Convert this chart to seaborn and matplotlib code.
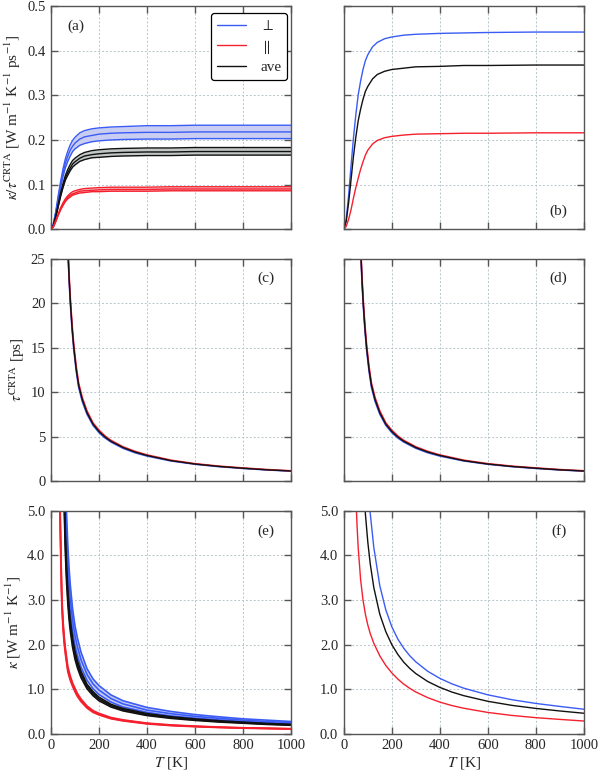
import numpy as np
import pandas as pd
import matplotlib
matplotlib.use("Agg")
import matplotlib.pyplot as plt
import seaborn as sns
from matplotlib.lines import Line2D

# ---- data ----
# (a) kappa / tau^CRTA, three curves per band
T_a = [0, 10, 20, 30, 40, 50, 60, 70, 80, 90, 100, 120, 140, 170, 200, 250, 300, 400, 500, 600, 800, 1000]
a_blue_lo = [0, 0.010, 0.035, 0.065, 0.093, 0.118, 0.138, 0.152, 0.164, 0.174, 0.180, 0.188, 0.192, 0.196, 0.198, 0.200, 0.201, 0.202, 0.202, 0.203, 0.203, 0.203]
a_blue_mid = [0, 0.011, 0.037, 0.070, 0.100, 0.126, 0.148, 0.164, 0.177, 0.186, 0.193, 0.202, 0.207, 0.210, 0.213, 0.215, 0.216, 0.217, 0.217, 0.218, 0.218, 0.218]
a_blue_hi = [0, 0.012, 0.040, 0.075, 0.107, 0.135, 0.158, 0.175, 0.189, 0.199, 0.206, 0.216, 0.221, 0.225, 0.227, 0.229, 0.230, 0.232, 0.232, 0.233, 0.233, 0.233]
a_black_lo = [0, 0.007, 0.027, 0.050, 0.073, 0.093, 0.110, 0.121, 0.131, 0.139, 0.144, 0.152, 0.156, 0.160, 0.161, 0.163, 0.164, 0.165, 0.165, 0.166, 0.166, 0.166]
a_black_mid = [0, 0.008, 0.028, 0.052, 0.077, 0.097, 0.115, 0.127, 0.137, 0.146, 0.151, 0.159, 0.164, 0.167, 0.169, 0.171, 0.172, 0.173, 0.173, 0.174, 0.174, 0.174]
a_black_hi = [0, 0.008, 0.029, 0.055, 0.081, 0.102, 0.121, 0.134, 0.145, 0.154, 0.159, 0.167, 0.172, 0.176, 0.178, 0.180, 0.181, 0.182, 0.182, 0.183, 0.183, 0.183]
a_red_lo = [0, 0.005, 0.017, 0.031, 0.043, 0.053, 0.062, 0.068, 0.072, 0.076, 0.078, 0.081, 0.082, 0.084, 0.084, 0.085, 0.085, 0.085, 0.086, 0.086, 0.086, 0.086]
a_red_mid = [0, 0.005, 0.018, 0.032, 0.045, 0.056, 0.065, 0.071, 0.076, 0.079, 0.081, 0.085, 0.086, 0.087, 0.088, 0.089, 0.089, 0.089, 0.090, 0.090, 0.090, 0.090]
a_red_hi = [0, 0.006, 0.019, 0.034, 0.048, 0.059, 0.068, 0.075, 0.080, 0.084, 0.086, 0.089, 0.091, 0.092, 0.093, 0.094, 0.094, 0.094, 0.095, 0.095, 0.095, 0.095]

# (b) kappa / tau^CRTA, single curves
b_blue = [0, 0.022, 0.075, 0.141, 0.203, 0.256, 0.301, 0.332, 0.358, 0.378, 0.391, 0.409, 0.419, 0.427, 0.431, 0.435, 0.437, 0.439, 0.440, 0.441, 0.442, 0.442]
b_black = [0, 0.017, 0.059, 0.110, 0.162, 0.206, 0.243, 0.269, 0.291, 0.309, 0.320, 0.337, 0.347, 0.354, 0.358, 0.361, 0.364, 0.365, 0.367, 0.367, 0.368, 0.368]
b_red = [0, 0.006, 0.022, 0.043, 0.069, 0.093, 0.114, 0.134, 0.151, 0.166, 0.177, 0.191, 0.199, 0.205, 0.208, 0.211, 0.213, 0.214, 0.215, 0.215, 0.216, 0.216]

# (c), (d) tau^CRTA
T_c = [68, 72, 76, 81, 88, 95, 105, 115, 130, 150, 175, 200, 225, 250, 300, 350, 400, 500, 600, 700, 800, 900, 1000]
tau_blue = [27.3, 24.8, 22.3, 19.8, 17.0, 14.8, 12.4, 10.6, 9.0, 7.55, 6.3, 5.48, 4.88, 4.42, 3.72, 3.22, 2.85, 2.30, 1.93, 1.66, 1.46, 1.29, 1.16]
tau_red = [27.8, 25.3, 22.8, 20.3, 17.5, 15.3, 12.9, 11.05, 9.42, 7.9, 6.56, 5.74, 5.1, 4.6, 3.88, 3.37, 2.97, 2.38, 1.99, 1.71, 1.51, 1.33, 1.19]
tau_black = [27.5, 25.0, 22.5, 20.0, 17.2, 15.0, 12.6, 10.8, 9.2, 7.7, 6.42, 5.6, 4.98, 4.5, 3.8, 3.29, 2.91, 2.33, 1.95, 1.68, 1.48, 1.30, 1.17]

# (e) kappa, bands
T_e = [55, 60, 65, 70, 75, 80, 90, 100, 110, 125, 150, 175, 200, 250, 300, 400, 500, 600, 700, 800, 900, 1000]
e_blue_lo = [5.9, 4.8, 4.0, 3.47, 3.06, 2.75, 2.3, 1.98, 1.76, 1.49, 1.2, 1.01, 0.88, 0.71, 0.6, 0.48, 0.4, 0.35, 0.31, 0.275, 0.25, 0.225]
e_blue_mid = [6.6, 5.3, 4.45, 3.85, 3.4, 3.05, 2.55, 2.2, 1.95, 1.66, 1.33, 1.12, 0.98, 0.79, 0.67, 0.53, 0.45, 0.39, 0.345, 0.305, 0.275, 0.25]
e_blue_hi = [7.3, 5.8, 4.9, 4.24, 3.74, 3.36, 2.8, 2.42, 2.15, 1.83, 1.46, 1.23, 1.08, 0.87, 0.74, 0.59, 0.5, 0.43, 0.38, 0.335, 0.305, 0.275]
e_black_lo = [5.03, 4.04, 3.38, 2.93, 2.58, 2.32, 1.94, 1.67, 1.48, 1.26, 1.01, 0.855, 0.74, 0.6, 0.513, 0.408, 0.345, 0.3, 0.263, 0.236, 0.209, 0.19]
e_black_mid = [5.3, 4.25, 3.56, 3.08, 2.72, 2.44, 2.04, 1.76, 1.56, 1.33, 1.06, 0.9, 0.78, 0.63, 0.54, 0.43, 0.363, 0.316, 0.277, 0.248, 0.22, 0.2]
e_black_hi = [5.57, 4.46, 3.74, 3.23, 2.86, 2.56, 2.14, 1.85, 1.64, 1.4, 1.11, 0.945, 0.82, 0.66, 0.567, 0.452, 0.381, 0.332, 0.291, 0.26, 0.231, 0.21]
T_e_red = [36, 40, 45, 50, 55, 60, 70, 80, 90, 100, 110, 125, 150, 175, 200, 250, 300, 400, 500, 600, 700, 800, 900, 1000]
e_red_lo = [5.38, 4.13, 2.88, 2.35, 2.02, 1.78, 1.39, 1.2, 1.06, 0.94, 0.835, 0.72, 0.576, 0.48, 0.422, 0.336, 0.288, 0.221, 0.182, 0.158, 0.139, 0.125, 0.115, 0.106]
e_red_mid = [5.6, 4.3, 3.0, 2.45, 2.1, 1.85, 1.45, 1.25, 1.1, 0.98, 0.87, 0.75, 0.6, 0.5, 0.44, 0.35, 0.3, 0.23, 0.19, 0.165, 0.145, 0.13, 0.12, 0.11]
e_red_hi = [5.82, 4.47, 3.12, 2.55, 2.18, 1.92, 1.51, 1.3, 1.14, 1.02, 0.905, 0.78, 0.624, 0.52, 0.458, 0.364, 0.312, 0.239, 0.198, 0.172, 0.151, 0.135, 0.125, 0.114]

# (f) kappa, single curves
T_f = [85, 90, 100, 110, 125, 150, 175, 200, 225, 250, 275, 300, 350, 400, 450, 500, 600, 700, 800, 900, 1000]
f_blue = [8.0, 7.2, 5.9, 4.95, 4.18, 3.32, 2.78, 2.4, 2.125, 1.916, 1.749, 1.613, 1.4, 1.243, 1.12, 1.022, 0.873, 0.764, 0.68, 0.613, 0.55]
f_black = [5.29, 4.93, 4.3, 3.82, 3.28, 2.68, 2.29, 2.0, 1.78, 1.604, 1.465, 1.35, 1.171, 1.04, 0.936, 0.854, 0.728, 0.637, 0.568, 0.511, 0.46]
T_f_red = [50, 55, 60, 70, 80, 90, 100, 110, 125, 150, 175, 200, 225, 250, 275, 300, 350, 400, 450, 500, 600, 700, 800, 900, 1000]
f_red = [5.4, 4.69, 4.17, 3.46, 3.0, 2.68, 2.44, 2.25, 2.03, 1.747, 1.531, 1.365, 1.227, 1.112, 1.018, 0.937, 0.809, 0.71, 0.633, 0.572, 0.478, 0.411, 0.361, 0.322, 0.286]

legend_labels = [r"$\perp$", r"$\parallel$", "ave"]
panel_tags = ["(a)", "(b)", "(c)", "(d)", "(e)", "(f)"]

BLUE = "#3a5cf5"
RED = "#f5202e"
BLACK = "#111111"
FILL = {BLUE: "#c9cdf2", BLACK: "#c2c8c6", RED: "#f6c2c6"}

sns.set_style("ticks")
plt.rcParams["font.family"] = ["Liberation Serif", "DejaVu Serif"]
plt.rcParams["mathtext.fontset"] = "stix"
plt.rcParams["font.size"] = 10

fig = plt.figure(figsize=(6.0, 7.74), dpi=100)
W, H = 0.40, 0.288
lefts = [0.085, 0.573]
bottoms = [0.704, 0.378, 0.052]
axes = [[fig.add_axes([l, b, W, H]) for l in lefts] for b in bottoms]


def band(ax, x, lo, mid, hi, color, lw=1.0):
    ax.fill_between(x, lo, hi, color=FILL[color], lw=0, zorder=1)
    for y in (lo, mid, hi):
        sns.lineplot(x=x, y=y, ax=ax, color=color, lw=lw, zorder=2)


def style(ax, ylim, yticks, fmt, ylabels=True, xlabels=False):
    ax.set_xlim(0, 1000)
    ax.set_ylim(*ylim)
    ax.set_xticks([0, 200, 400, 600, 800, 1000])
    ax.set_yticks(yticks)
    ax.yaxis.set_major_formatter(plt.FormatStrFormatter(fmt))
    ax.grid(True, ls=(0, (2, 2)), color="#b8c6cc", lw=0.7)
    ax.set_axisbelow(True)
    ax.tick_params(direction="in", top=True, right=True, length=5, width=1.0,
                   color="#555555", labelsize=10.5, pad=4)
    for s in ax.spines.values():
        s.set_color("#555555")
        s.set_linewidth(1.0)
    if not ylabels:
        ax.set_yticklabels([])
    if not xlabels:
        ax.set_xticklabels([])
    else:
        ax.set_xlabel(r"$T$ [K]", fontsize=11, labelpad=2)
    ax.set_ylabel("")


# (a)
ax = axes[0][0]
band(ax, T_a, a_blue_lo, a_blue_mid, a_blue_hi, BLUE)
band(ax, T_a, a_black_lo, a_black_mid, a_black_hi, BLACK)
band(ax, T_a, a_red_lo, a_red_mid, a_red_hi, RED)
style(ax, (0, 0.5), [0, 0.1, 0.2, 0.3, 0.4, 0.5], "%.1f")
ax.set_ylabel(r"$\kappa/\tau^{\rm CRTA}$ [W m$^{-1}$ K$^{-1}$ ps$^{-1}$]", fontsize=11, labelpad=3)
handles = [Line2D([], [], color=c, lw=1.0) for c in (BLUE, RED, BLACK)]
leg = ax.legend(handles, legend_labels, loc="upper right", handlelength=1.9,
                fontsize=11, frameon=True, fancybox=True, borderpad=0.4,
                labelspacing=0.3, handletextpad=0.9, borderaxespad=0,
                bbox_to_anchor=(0.985, 0.97))
leg.get_frame().set_edgecolor("black")
leg.get_frame().set_linewidth(0.9)
leg.get_frame().set_alpha(1)

# (b)
ax = axes[0][1]
for y, c in ((b_blue, BLUE), (b_black, BLACK), (b_red, RED)):
    sns.lineplot(x=T_a, y=y, ax=ax, color=c, lw=1.0)
style(ax, (0, 0.5), [0, 0.1, 0.2, 0.3, 0.4, 0.5], "%.1f", ylabels=False)

# (c), (d)
for k in range(2):
    ax = axes[1][k]
    sns.lineplot(x=T_c, y=tau_blue, ax=ax, color=BLUE, lw=1.2)
    sns.lineplot(x=T_c, y=tau_red, ax=ax, color=RED, lw=1.2)
    sns.lineplot(x=T_c, y=tau_black, ax=ax, color=BLACK, lw=1.0)
    style(ax, (0, 25), [0, 5, 10, 15, 20, 25], "%d", ylabels=(k == 0))
axes[1][0].set_ylabel(r"$\tau^{\rm CRTA}$ [ps]", fontsize=11, labelpad=3)

# (e)
ax = axes[2][0]
band(ax, T_e, e_blue_lo, e_blue_mid, e_blue_hi, BLUE, lw=1.2)
band(ax, T_e, e_black_lo, e_black_mid, e_black_hi, BLACK, lw=1.2)
band(ax, T_e_red, e_red_lo, e_red_mid, e_red_hi, RED, lw=1.2)
style(ax, (0, 5), [0, 1, 2, 3, 4, 5], "%.1f", xlabels=True)
ax.set_ylabel(r"$\kappa$ [W m$^{-1}$ K$^{-1}$]", fontsize=11, labelpad=3)

# (f)
ax = axes[2][1]
sns.lineplot(x=T_f, y=f_blue, ax=ax, color=BLUE, lw=1.0)
sns.lineplot(x=T_f, y=f_black, ax=ax, color=BLACK, lw=1.0)
sns.lineplot(x=T_f_red, y=f_red, ax=ax, color=RED, lw=1.0)
style(ax, (0, 5), [0, 1, 2, 3, 4, 5], "%.1f", xlabels=True)

# panel tags
tag_pos = [(0.07, 0.91, "left"), (0.93, 0.08, "right"), (0.93, 0.91, "right"),
           (0.93, 0.91, "right"), (0.93, 0.91, "right"), (0.93, 0.91, "right")]
for i, (tx, ty, ha) in enumerate(tag_pos):
    ax = axes[i // 2][i % 2]
    ax.text(tx, ty, panel_tags[i], transform=ax.transAxes, ha=ha, va="center", fontsize=11)

fig.savefig("out.png", dpi=100)
